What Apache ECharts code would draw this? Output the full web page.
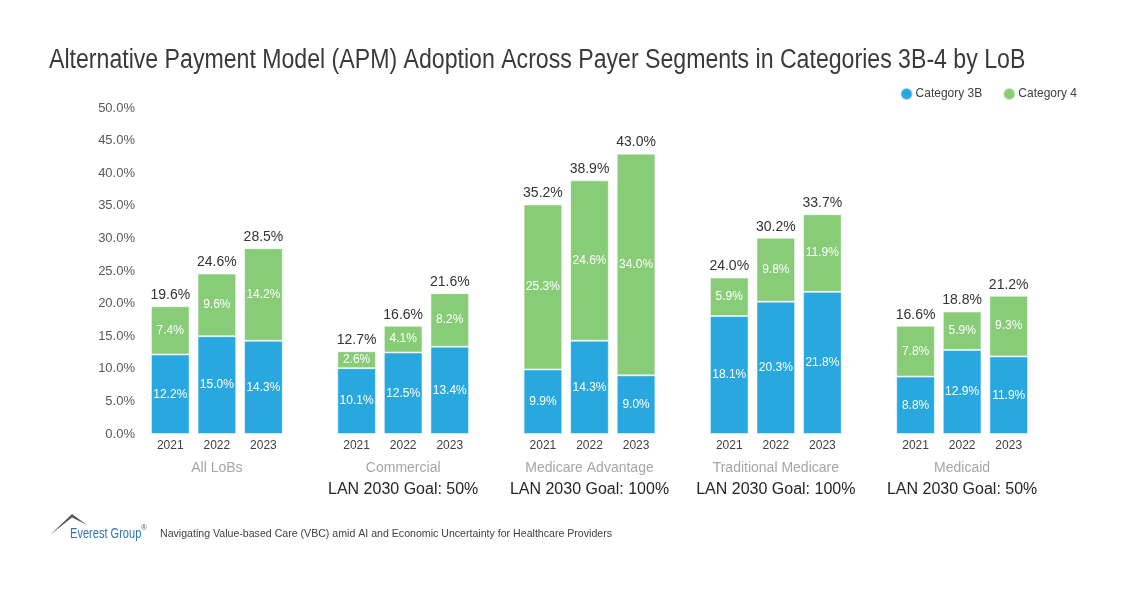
<!DOCTYPE html>
<html>
<head>
<meta charset="utf-8">
<script src="https://cdn.jsdelivr.net/npm/echarts@6/dist/echarts.min.js"></script>
<style>
  html, body { margin: 0; padding: 0; background: #fff; }
  #chart { width: 1130px; height: 591px; }
</style>
</head>
<body>
<div id="chart"></div>
<script>
// 数据
const segments = ['All LoBs', 'Commercial', 'Medicare Advantage', 'Traditional Medicare', 'Medicaid'];
const goals = ['', 'LAN 2030 Goal: 50%', 'LAN 2030 Goal: 100%', 'LAN 2030 Goal: 100%', 'LAN 2030 Goal: 50%'];
const years = ['2021', '2022', '2023'];
const cat3b = [12.2, 15.0, 14.3, 10.1, 12.5, 13.4, 9.9, 14.3, 9.0, 18.1, 20.3, 21.8, 8.8, 12.9, 11.9];
const cat4 = [7.4, 9.6, 14.2, 2.6, 4.1, 8.2, 25.3, 24.6, 34.0, 5.9, 9.8, 11.9, 7.8, 5.9, 9.3];
const totals = [19.6, 24.6, 28.5, 12.7, 16.6, 21.6, 35.2, 38.9, 43.0, 24.0, 30.2, 33.7, 16.6, 18.8, 21.2];
const yTicks = [0, 5, 10, 15, 20, 25, 30, 35, 40, 45, 50];

const FONT = 'Liberation Sans, Arial, sans-serif';

// 每组三根柱子，组间空一格
const categories = [];
const s3b = [], s4 = [], sTop = [];
segments.forEach((seg, g) => {
  if (g > 0) {
    categories.push('gap' + g);
    s3b.push('-'); s4.push('-'); sTop.push('-');
  }
  years.forEach((y, i) => {
    const k = g * 3 + i;
    categories.push(g + '|' + i);
    s3b.push(cat3b[k]);
    s4.push(cat4[k]);
    sTop.push({ value: 0, total: totals[k] });
  });
});

const chart = echarts.init(document.getElementById('chart'));

const insideLabel = {
  show: true,
  position: 'inside',
  color: '#fff',
  fontSize: 12,
  fontFamily: FONT,
  formatter: p => p.value.toFixed(1) + '%'
};

chart.setOption({
  animation: false,
  legend: {
    right: 48,
    top: 82,
    icon: 'circle',
    itemWidth: 12,
    itemHeight: 12,
    itemGap: 20,
    data: ['Category 3B', 'Category 4'],
    textStyle: { fontSize: 12, color: '#404040', fontFamily: FONT, padding: [0, 0, 0, -2] }
  },
  grid: { left: 147, right: 98, top: 108, bottom: 157 },
  xAxis: {
    type: 'category',
    data: categories,
    axisLine: { show: false },
    axisTick: { show: false },
    axisLabel: {
      interval: 0,
      margin: 4,
      formatter: v => {
        if (v.indexOf('gap') === 0) return '';
        const parts = v.split('|');
        const g = +parts[0], i = +parts[1];
        let s = '{yr|' + years[i] + '}';
        if (i === 1) {
          s += '\n{grp|' + segments[g] + '}';
          if (goals[g]) s += '\n{goal|' + goals[g] + '}';
        }
        return s;
      },
      rich: {
        yr: { fontSize: 12, color: '#404040', lineHeight: 16, fontFamily: FONT },
        grp: { fontSize: 14, color: '#a6a6a6', lineHeight: 28, fontFamily: FONT },
        goal: { fontSize: 16, color: '#262626', lineHeight: 16, fontFamily: FONT }
      }
    }
  },
  yAxis: {
    type: 'value',
    min: 0,
    max: 50,
    interval: 5,
    splitLine: { show: false },
    axisLine: { show: false },
    axisTick: { show: false },
    axisLabel: {
      margin: 12,
      fontSize: 13,
      color: '#595959',
      fontFamily: FONT,
      customValues: yTicks,
      formatter: v => v.toFixed(1) + '%'
    }
  },
  series: [
    {
      name: 'Category 3B',
      type: 'bar',
      stack: 'apm',
      barWidth: '83%',
      data: s3b,
      itemStyle: { color: '#29A8E0', borderColor: 'rgba(255,255,255,0.5)', borderWidth: 1 },
      label: insideLabel
    },
    {
      name: 'Category 4',
      type: 'bar',
      stack: 'apm',
      data: s4,
      itemStyle: { color: '#88CC78', borderColor: 'rgba(255,255,255,0.5)', borderWidth: 1 },
      label: insideLabel
    },
    {
      name: 'total',
      type: 'bar',
      stack: 'apm',
      data: sTop,
      itemStyle: { color: 'transparent' },
      label: {
        show: true,
        position: 'top',
        distance: 4,
        fontSize: 14,
        color: '#333',
        fontFamily: FONT,
        formatter: p => p.data.total.toFixed(1) + '%'
      }
    }
  ],
  graphic: [
    // 标题（窄体字）
    {
      type: 'text',
      x: 49,
      y: 47,
      scaleX: 0.856,
      style: {
        text: 'Alternative Payment Model (APM) Adoption Across Payer Segments in Categories 3B-4 by LoB',
        fontSize: 27,
        fill: '#3a3a3a',
        fontFamily: FONT,
        verticalAlign: 'top'
      }
    },
    // Everest 山形标志
    {
      type: 'polygon',
      shape: { points: [[50, 535], [72, 514], [87, 525], [72, 517.5]] },
      style: { fill: '#5a5a5a' }
    },
    {
      type: 'text',
      x: 70,
      y: 534,
      scaleX: 0.79,
      style: {
        text: 'Everest Group',
        fontSize: 14,
        fill: '#2e75b6',
        fontFamily: FONT,
        verticalAlign: 'middle'
      }
    },
    {
      type: 'text',
      x: 141,
      y: 528,
      style: { text: '®', fontSize: 8, fill: '#595959', fontFamily: FONT, verticalAlign: 'middle' }
    },
    {
      type: 'text',
      x: 160,
      y: 534,
      style: {
        text: 'Navigating Value-based Care (VBC) amid AI and Economic Uncertainty for Healthcare Providers',
        fontSize: 10.6,
        fill: '#404040',
        fontFamily: FONT,
        verticalAlign: 'middle'
      }
    }
  ]
});
</script>
</body>
</html>
